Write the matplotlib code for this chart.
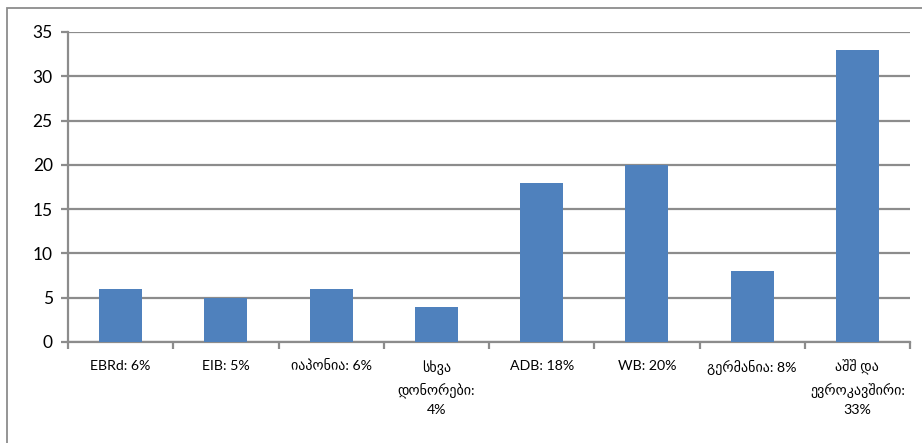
import matplotlib
matplotlib.use("Agg")
import matplotlib.pyplot as plt
from matplotlib.patches import Rectangle

categories = ["EBRd: 6%", "EIB: 5%", "იაპონია: 6%", "სხვა\nდონორები:\n4%",
              "ADB: 18%", "WB: 20%", "გერმანია: 8%", "აშშ და\nევროკავშირი:\n33%"]
values = [6, 5, 6, 4, 18, 20, 8, 33]
yticks = [0, 5, 10, 15, 20, 25, 30, 35]

FAM = ['Lato', 'DejaVu Sans']
plt.rcParams['font.family'] = FAM

W, H = 922, 443
fig = plt.figure(figsize=(W / 100, H / 100), dpi=100)
left, right, top, bottom = 68, 910, 32, 342
ax = fig.add_axes([left / W, 1 - bottom / H, (right - left) / W, (bottom - top) / H])

grid_c = '#8c8c8c'
x = list(range(len(categories)))
ax.bar(x, values, width=0.41, color='#4F81BD', zorder=3)
ax.set_xlim(-0.5, len(categories) - 0.5)
ax.set_ylim(0, 35)
ax.set_yticks(yticks)
ax.set_yticklabels([str(v) for v in yticks], fontsize=12.5)
ax.yaxis.grid(True, color=grid_c, linewidth=1.6, zorder=0)
ax.set_axisbelow(True)

ax.set_xticks([i - 0.5 for i in range(len(categories) + 1)], minor=False)
ax.set_xticklabels([])
ax.set_xticks(x, minor=True)
ax.set_xticklabels(categories, minor=True, fontsize=10.2, linespacing=1.6, va='top')
ax.tick_params(axis='x', which='minor', length=0, pad=13)
ax.tick_params(axis='x', which='major', length=5, width=1.6, color=grid_c)
ax.tick_params(axis='y', length=5, width=1.6, color=grid_c, pad=6)

for s in ['top', 'right']:
    ax.spines[s].set_visible(False)
for s in ['left', 'bottom']:
    ax.spines[s].set_color(grid_c)
    ax.spines[s].set_linewidth(1.6)

fig.patches.append(Rectangle((7 / W, -0.1), 1.2, 1 - 8 / H + 0.1, transform=fig.transFigure,
                             fill=False, edgecolor='#8c8c8c', linewidth=1.3))

fig.savefig('out.png', dpi=100)
